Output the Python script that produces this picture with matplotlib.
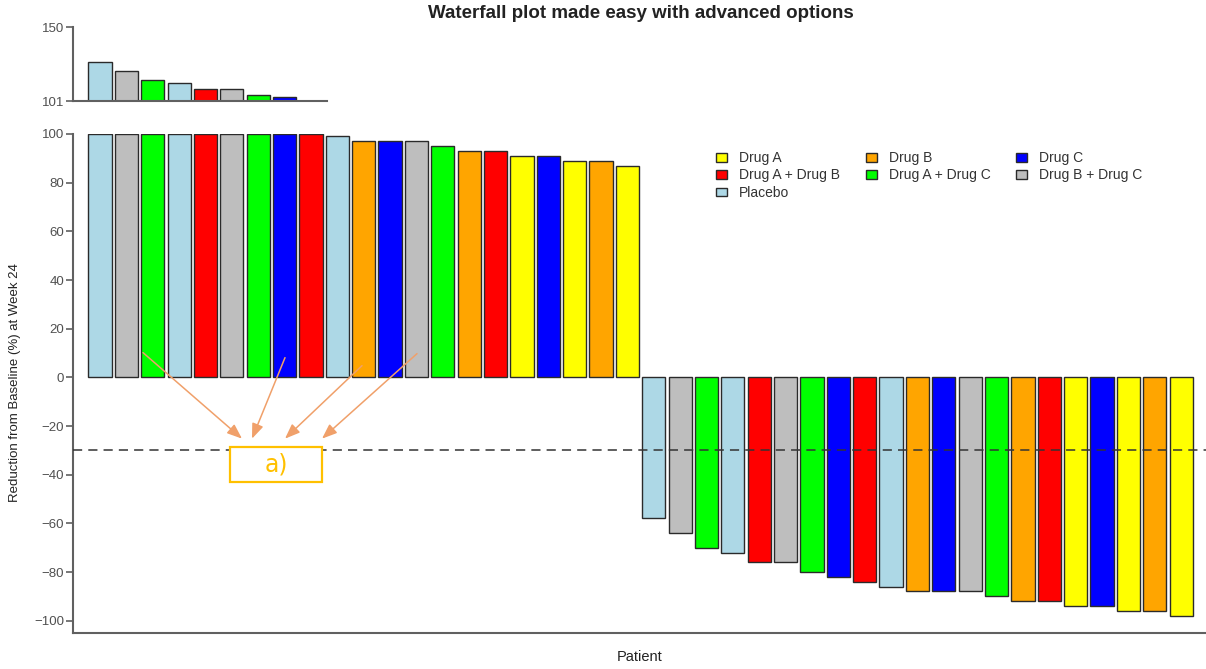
import numpy as np
import matplotlib
matplotlib.use("Agg")
import matplotlib.pyplot as plt
from matplotlib.patches import Patch, Rectangle

plt.rcParams['font.family'] = ['Liberation Sans', 'DejaVu Sans']

# ---- data ----
groups_pos = ["Placebo", "Drug B + Drug C", "Drug A + Drug C", "Placebo", "Drug A + Drug B",
              "Drug B + Drug C", "Drug A + Drug C", "Drug C", "Drug A + Drug B", "Placebo",
              "Drug B", "Drug C", "Drug B + Drug C", "Drug A + Drug C", "Drug B",
              "Drug A + Drug B", "Drug A", "Drug C", "Drug A", "Drug B", "Drug A"]
values_pos = [127, 121, 115, 113, 109, 109, 105, 103.5, 100, 99, 97, 97, 97, 95, 93, 93, 91, 91, 89, 89, 87]

groups_neg = ["Placebo", "Drug B + Drug C", "Drug A + Drug C", "Placebo", "Drug A + Drug B",
              "Drug B + Drug C", "Drug A + Drug C", "Drug C", "Drug A + Drug B", "Placebo",
              "Drug B", "Drug C", "Drug B + Drug C", "Drug A + Drug C", "Drug B",
              "Drug A + Drug B", "Drug A", "Drug C", "Drug A", "Drug B", "Drug A"]
values_neg = [-58, -64, -70, -72, -76, -76, -80, -82, -84, -86, -88, -88, -88, -90, -92, -92,
              -94, -94, -96, -96, -98]

legend_labels = ["Drug A", "Drug B", "Drug C", "Drug A + Drug B", "Drug A + Drug C",
                 "Drug B + Drug C", "Placebo"]
legend_colors = ["#FFFF00", "#FFA500", "#0000FF", "#FF0000", "#00FF00", "#BEBEBE", "#ADD8E6"]

main_ticks = [-100, -80, -60, -40, -20, 0, 20, 40, 60, 80, 100]
top_ticks = [101, 150]
threshold = -30

color_map = dict(zip(legend_labels, legend_colors))
groups = groups_pos + groups_neg
values = np.array(values_pos + values_neg, dtype=float)
colors = [color_map[g] for g in groups]
x = np.arange(len(values))

W, H = 1206, 669
fig = plt.figure(figsize=(W / 100, H / 100), dpi=100)

pitch = 26.37
x0px = 100.0
def fx(px):
    return (px - x0px) / pitch

spine_col = "#606060"
tick_col = "#505050"
edge = "#2a2a2a"
bw = 0.88

def fmt(t):
    return str(t).replace("-", "\u2212")

# main axes
L, R, T, B = 73, 1206, 134, 633
ax = fig.add_axes([L / W, 1 - B / H, (R - L) / W, (B - T) / H])
ax.bar(x, np.minimum(values, 100), width=bw, color=colors, edgecolor=edge, linewidth=1.0, zorder=2)
ax.set_xlim(fx(L), fx(R))
ymin = -100 - (B - 620.7) / 2.433
ax.set_ylim(ymin, 100)
ax.axhline(threshold, color="#333333", linestyle=(0, (6, 4)), linewidth=1.1, zorder=3)
for s in ["top", "right"]:
    ax.spines[s].set_visible(False)
for s in ["left", "bottom"]:
    ax.spines[s].set_color(spine_col)
    ax.spines[s].set_linewidth(1.5)
ax.set_yticks(main_ticks)
ax.set_yticklabels([fmt(t) for t in main_ticks])
ax.set_xticks([])
ax.tick_params(axis="y", direction="out", length=5, width=1.2, color=spine_col,
               labelcolor=tick_col, labelsize=9.5, pad=1.5)

# top axes (values above 100)
tL, tR, tT, tB = 73, 327, 27, 101
axt = fig.add_axes([tL / W, 1 - tB / H, (tR - tL) / W, (tB - tT) / H])
axt.bar(x, values, width=bw, color=colors, edgecolor=edge, linewidth=1.0, zorder=2)
axt.set_xlim(fx(tL), fx(tR))
axt.set_ylim(101, 150)
for s in ["top", "right"]:
    axt.spines[s].set_visible(False)
for s in ["left", "bottom"]:
    axt.spines[s].set_color(spine_col)
    axt.spines[s].set_linewidth(1.5)
axt.set_yticks(top_ticks)
axt.set_yticklabels([fmt(t) for t in top_ticks])
axt.set_xticks([])
axt.tick_params(axis="y", direction="out", length=5, width=1.2, color=spine_col,
                labelcolor=tick_col, labelsize=9.5, pad=1.5)

# legend (row-wise order -> column-major handles)
order = [0, 3, 6, 1, 4, 2, 5]
handles = [Patch(facecolor=legend_colors[i], edgecolor=edge, linewidth=1.0) for i in order]
labels = [legend_labels[i] for i in order]
leg = ax.legend(handles, labels, ncol=3, frameon=False, loc="upper left",
                bbox_to_anchor=(716 / W, 1 - 151 / H), bbox_transform=fig.transFigure,
                fontsize=10, handlelength=0.8, handleheight=0.6, handletextpad=0.85,
                columnspacing=1.85, labelspacing=0.25, borderpad=0, borderaxespad=0)
for t in leg.get_texts():
    t.set_color("#333333")

# annotation arrows and box
def fy(py):
    return (376.7 - py) / 2.433

arrow_col = "#F0A06A"
starts = [(143, 352), (285, 357), (362, 365), (417, 353)]
ends = [(242, 438), (252, 438), (285, 438), (322, 438)]
for (sx, sy), (ex, ey) in zip(starts, ends):
    ax.annotate("", xy=(fx(ex), fy(ey)), xytext=(fx(sx), fy(sy)),
                arrowprops=dict(arrowstyle="-|>,head_length=0.9,head_width=0.35",
                                color=arrow_col, lw=1.1, shrinkA=0, shrinkB=0), zorder=4)
ax.add_patch(Rectangle((fx(230), fy(481)), fx(322) - fx(230), fy(446) - fy(481),
                       facecolor="white", edgecolor="#FFC000", linewidth=1.6, zorder=4))
ax.text(fx(276), fy(464), "a)", color="#FFC000", fontsize=17, ha="center", va="center",
        family=["DejaVu Sans"], zorder=5)

# titles and labels
fig.text(641 / W, 1 - 14 / H, "Waterfall plot made easy with advanced options",
         ha="center", va="center", fontsize=13.5, fontweight="bold", color="#222222")
fig.text(15 / W, 1 - 383 / H, "Reduction from Baseline (%) at Week 24", rotation=90,
         ha="center", va="center", fontsize=9.5, color="#222222")
fig.text(640 / W, 1 - 657 / H, "Patient", ha="center", va="center", fontsize=10.5,
         color="#222222")

fig.savefig("out.png", dpi=100)
